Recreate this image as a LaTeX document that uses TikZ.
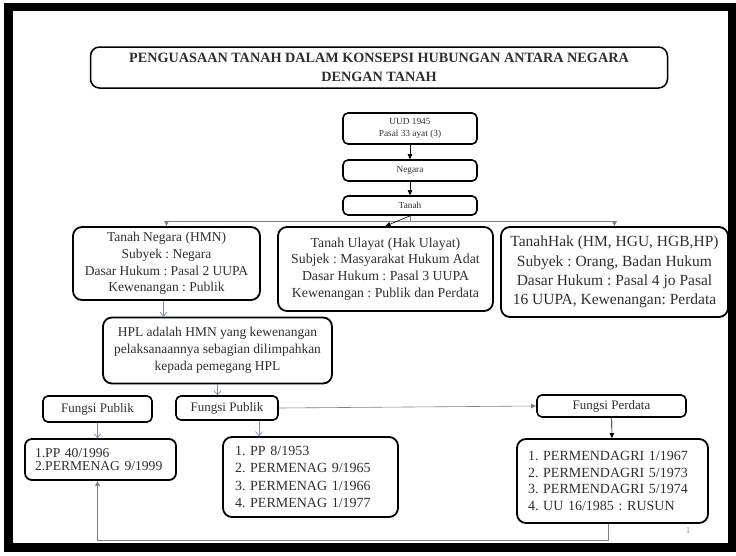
\documentclass[tikz,border=0pt]{standalone}
\usepackage{fontspec}
\setmainfont{Liberation Serif}
\usepackage{xcolor}
\usepackage{tikz}
\usetikzlibrary{arrows.meta,positioning}
\definecolor{hplblue}{RGB}{96,146,205}

\newcommand{\fs}[2]{\fontsize{#1}{#2}\selectfont\frenchspacing}

\begin{document}
\begin{tikzpicture}[
  x=1pt, y=-1pt,
  box/.style={draw, line width=1.8pt, rounded corners=9pt, align=center, inner sep=2pt, text=black!82},
  sbox/.style={box, line width=1.6pt, rounded corners=5pt},
  listbox/.style={box, align=left, inner xsep=11pt},
  karr/.style={-{Triangle[length=5pt, width=4.5pt]}, line width=0.6pt},
  barr/.style={-{Straight Barb[length=4pt, width=7pt]}, draw=hplblue, line width=0.7pt},
  gline/.style={draw=black!50, line width=0.8pt}
]
  \useasboundingbox (0,0) rectangle (736,555);
  \draw[line width=8.5pt] (8.5,7) rectangle (732.5,547.5);

  \node[box, line width=1.5pt, minimum width=577pt, minimum height=41pt, font=\fs{14.2}{19}\bfseries] (judul) at (379,67.5)
    {PENGUASAAN TANAH DALAM KONSEPSI HUBUNGAN ANTARA NEGARA\\DENGAN TANAH};

  \node[sbox, minimum width=134pt, minimum height=31pt, font=\fs{9.3}{12}] (uud) at (410,128.5) {UUD 1945\\Pasal 33 ayat (3)};
  \node[sbox, minimum width=134pt, minimum height=21pt, font=\fs{9.3}{12}] (negara) at (410,170.5) {Negara};
  \node[sbox, minimum width=134pt, minimum height=19pt, font=\fs{9.3}{12}] (tanah) at (410,205.5) {Tanah};

  \node[box, minimum width=187pt, minimum height=73pt, font=\fs{13.5}{16.7}] (hmn) at (166.5,263.5)
    {Tanah Negara (HMN)\\Subyek : Negara\\Dasar Hukum : Pasal 2 UUPA\\Kewenangan : Publik};
  \node[box, minimum width=215pt, minimum height=84pt, font=\fs{13.8}{16.7}] (ulayat) at (385.5,269)
    {Tanah Ulayat (Hak Ulayat)\\Subjek : Masyarakat Hukum Adat\\Dasar Hukum : Pasal 3 UUPA\\Kewenangan : Publik dan Perdata};
  \node[box, minimum width=227pt, minimum height=90pt, font=\fs{15.5}{19.3}] (hak) at (614.5,272)
    {TanahHak (HM, HGU, HGB,HP)\\Subyek : Orang, Badan Hukum\\Dasar Hukum : Pasal 4 jo Pasal\\16 UUPA, Kewenangan: Perdata};

  \node[box, minimum width=229pt, minimum height=66pt, font=\fs{13.5}{17}] (hpl) at (217.5,350.5)
    {HPL adalah HMN yang kewenangan\\pelaksanaannya sebagian dilimpahkan\\kepada pemegang HPL};

  \node[sbox, minimum width=109pt, minimum height=26pt, font=\fs{13}{16}] (publik1) at (97.5,409) {Fungsi Publik};
  \node[sbox, minimum width=102pt, minimum height=24pt, font=\fs{13}{16}] (publik2) at (227,408) {Fungsi Publik};
  \node[sbox, minimum width=149pt, minimum height=22pt, font=\fs{13}{16}] (perdata) at (611.5,406) {Fungsi Perdata};

  \node[listbox, rounded corners=7pt, text width=131pt, inner xsep=10pt, minimum height=41pt, font=\fs{13.6}{12.5}] (pp40) at (100.5,459.5)
    {1.PP 40/1996\\2.PERMENAG 9/1999};
  \node[listbox, text width=151pt, inner xsep=12pt, minimum height=80pt, font=\fs{14}{17.3}] (pp8) at (310.5,477)
    {1. PP 8/1953\\2. PERMENAG 9/1965\\3. PERMENAG 1/1966\\4. PERMENAG 1/1977};
  \node[listbox, text width=169pt, minimum height=84pt, font=\fs{14}{16.5}] (pmd) at (612.5,481)
    {1. PERMENDAGRI 1/1967\\2. PERMENDAGRI 5/1973\\3. PERMENDAGRI 5/1974\\4. UU 16/1985 : RUSUN};

  \node[font=\fs{9}{10}, text=black!45, inner sep=0pt] (hal) at (688,531) {1};

  \draw[karr] (uud) -- (negara);
  \draw[karr] (negara) -- (tanah);
  \coordinate (cabang) at (410,221);
  \draw[gline] (tanah.south) -- (cabang);
  \draw[gline, karr] (cabang) -| (hmn.north);
  \draw[gline, karr] (cabang) -| (hak.north);
  \draw[karr] (tanah.south) -- (ulayat.north);

  \draw[barr] ([xshift=-3pt]hmn.south) -- ([xshift=-3pt]hmn.south |- hpl.north);
  \draw[barr] (hpl.south) -- (hpl.south |- publik2.north);
  \draw[barr] (publik1.south) -- (publik1.south |- pp40.north);
  \draw[barr] ([xshift=32pt]publik2.south) -- ([xshift=32pt]publik2.south |- pp8.north);

  \draw[gline, karr] (publik2.east) -- (perdata.west);
  \draw[karr] (perdata) -- (pmd);
  \draw[gline, karr] ([xshift=-4pt]pmd.south) -- ++(0,16) -| ([xshift=-3pt]pp40.south);
\end{tikzpicture}
\end{document}
